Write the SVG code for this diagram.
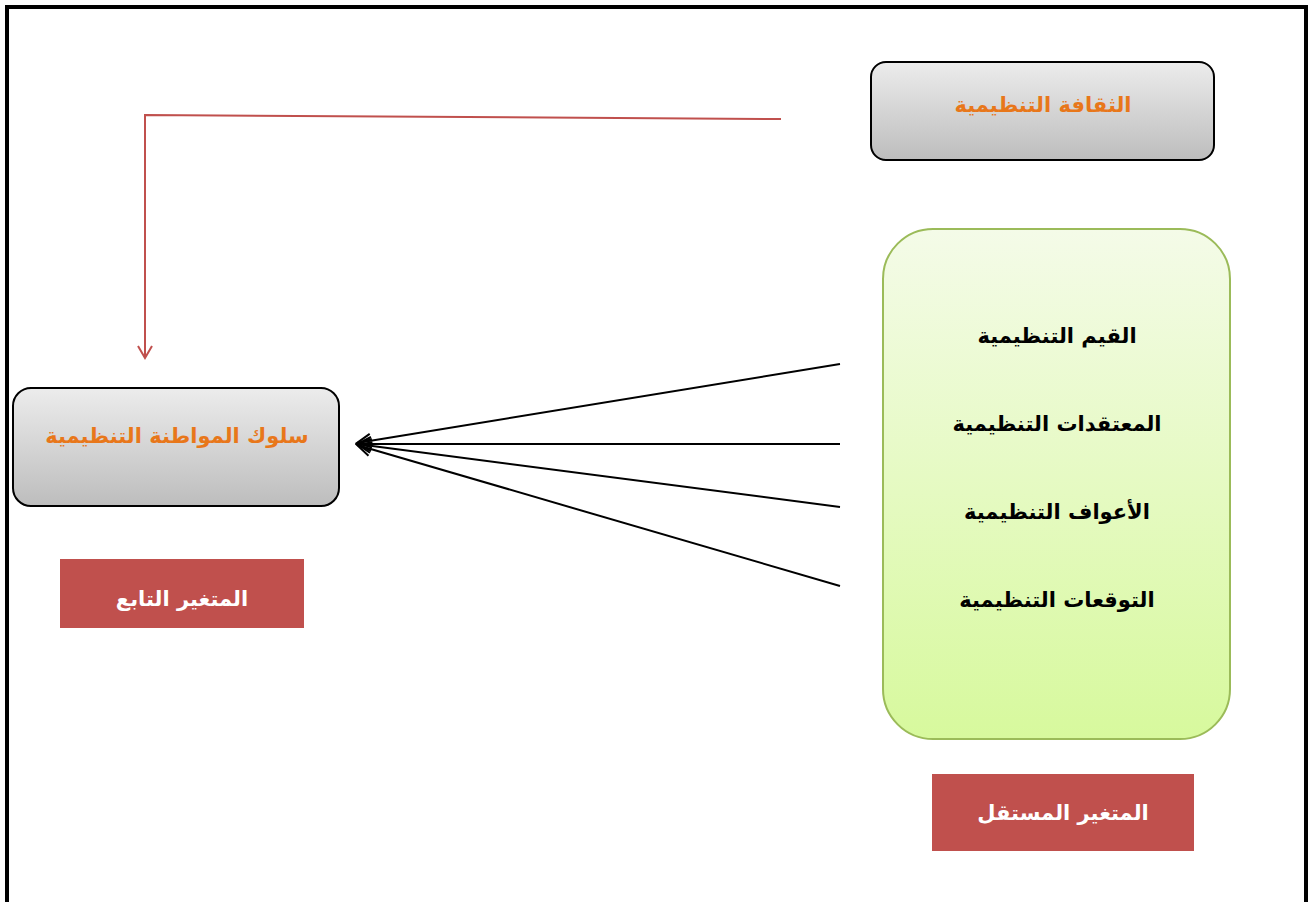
<svg xmlns="http://www.w3.org/2000/svg" width="1309" height="902" viewBox="0 0 1309 902">
<style>
.box{stroke:#000;stroke-width:2}
.otext{font-family:"DejaVu Sans",sans-serif;font-weight:bold;font-size:21px;fill:#e8771a;text-anchor:middle}
.btext{font-family:"DejaVu Sans",sans-serif;font-weight:bold;font-size:21px;fill:#000;text-anchor:middle}
.wtext{font-family:"DejaVu Sans",sans-serif;font-weight:bold;font-size:21px;fill:#fff;text-anchor:middle}
.lab{fill:#c0504d}
.blk{stroke:#000;stroke-width:2;fill:none}
.red{stroke:#c0504d;stroke-width:2;fill:none}
</style>
<defs>
<linearGradient id="gray" x1="0" y1="0" x2="0" y2="1">
<stop offset="0" stop-color="#ececec"/><stop offset="1" stop-color="#bdbdbd"/>
</linearGradient>
<linearGradient id="green" x1="0" y1="0" x2="0" y2="1">
<stop offset="0" stop-color="#f4fbe8"/><stop offset="1" stop-color="#d7f99d"/>
</linearGradient>
<marker id="ablk" viewBox="0 0 20 20" refX="18" refY="10" markerWidth="20" markerHeight="20" markerUnits="userSpaceOnUse" orient="auto">
<path d="M4,3 L18,10 L4,17" fill="none" stroke="#000" stroke-width="2"/>
</marker>
<marker id="ared" viewBox="0 0 20 20" refX="10" refY="18" markerWidth="20" markerHeight="20" markerUnits="userSpaceOnUse" orient="0">
<path d="M3,6 L10,18 L17,6" fill="none" stroke="#c0504d" stroke-width="2"/>
</marker>
</defs>
<rect x="0" y="0" width="1309" height="902" fill="#fff"/>
<path d="M7,902 L7,7 L1306,7 L1306,902" fill="none" stroke="#000" stroke-width="4"/>
<g id="connectors">
<line class="blk" x1="840" y1="364" x2="357" y2="443" marker-end="url(#ablk)"/>
<line class="blk" x1="840" y1="444" x2="357" y2="444" marker-end="url(#ablk)"/>
<line class="blk" x1="840" y1="507" x2="357" y2="444" marker-end="url(#ablk)"/>
<line class="blk" x1="840" y1="586" x2="357" y2="445" marker-end="url(#ablk)"/>
<polyline class="red" points="781,119 145,115 145,358" marker-end="url(#ared)"/>
</g>
<g id="culture">
<rect class="box" x="871" y="62" width="343" height="98" rx="15" fill="url(#gray)"/>
<text class="otext" x="1043" y="112">الثقافة التنظيمية</text>
</g>
<g id="ocb">
<rect class="box" x="13" y="388" width="326" height="118" rx="18" fill="url(#gray)"/>
<text class="otext" x="177" y="443">سلوك المواطنة التنظيمية</text>
</g>
<g id="independent">
<rect x="883" y="229" width="347" height="510" rx="50" fill="url(#green)" stroke="#9bbb59" stroke-width="2"/>
<text class="btext" x="1057" y="343">القيم التنظيمية</text>
<text class="btext" x="1057" y="431">المعتقدات التنظيمية</text>
<text class="btext" x="1057" y="519">الأعواف التنظيمية</text>
<text class="btext" x="1057" y="607">التوقعات التنظيمية</text>
</g>
<g id="label-dependent">
<rect class="lab" x="60" y="559" width="244" height="69"/>
<text class="wtext" x="182" y="606">المتغير التابع</text>
</g>
<g id="label-independent">
<rect class="lab" x="932" y="774" width="262" height="77"/>
<text class="wtext" x="1063" y="820">المتغير المستقل</text>
</g>
</svg>
